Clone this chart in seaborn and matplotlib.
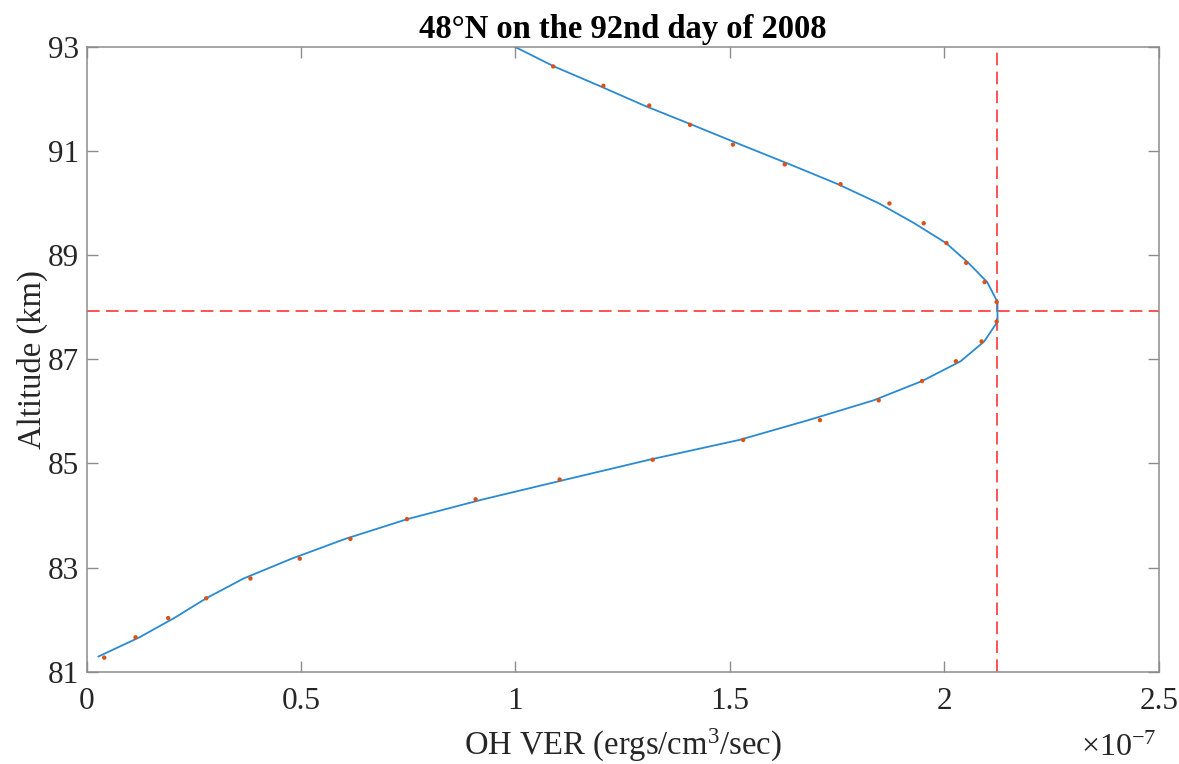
import matplotlib
matplotlib.use("Agg")
import matplotlib.pyplot as plt
import seaborn as sns
import numpy as np

# Observed OH VER (units of 1e-7 ergs/cm^3/sec) and altitudes (km)
obs_alt = [81.27, 81.66, 82.03, 82.41, 82.79, 83.17, 83.55, 83.93, 84.31, 84.69,
           85.07, 85.45, 85.83, 86.21, 86.58, 86.96, 87.34, 87.72, 88.10, 88.48,
           88.85, 89.23, 89.61, 89.99, 90.36, 90.74, 91.12, 91.50, 91.87, 92.25, 92.62]
obs_ver = [0.041, 0.114, 0.190, 0.279, 0.382, 0.497, 0.615, 0.747, 0.907, 1.103,
           1.320, 1.531, 1.710, 1.847, 1.948, 2.027, 2.087, 2.122, 2.122, 2.094,
           2.051, 2.005, 1.952, 1.872, 1.758, 1.628, 1.507, 1.407, 1.312, 1.205, 1.088]

# Fitted profile
fit_alt = [81.29, 81.66, 82.03, 82.41, 82.79, 83.17, 83.55, 83.93, 84.31, 84.69,
           85.07, 85.45, 85.83, 86.21, 86.58, 86.96, 87.34, 87.72, 88.10, 88.48,
           88.85, 89.23, 89.61, 89.99, 90.36, 90.74, 91.12, 91.50, 91.87, 92.25,
           92.62, 93.00]
fit_ver = [0.027, 0.123, 0.204, 0.279, 0.366, 0.478, 0.603, 0.748, 0.925, 1.118,
           1.312, 1.522, 1.683, 1.835, 1.948, 2.038, 2.093, 2.124, 2.124, 2.100,
           2.056, 2.004, 1.930, 1.848, 1.752, 1.640, 1.525, 1.412, 1.300, 1.195,
           1.090, 0.998]

peak_ver = 2.124
peak_alt = 87.93

x_ticks = [0, 0.5, 1, 1.5, 2, 2.5]
x_tick_labels = ["0", "0.5", "1", "1.5", "2", "2.5"]
y_ticks = [81, 83, 85, 87, 89, 91, 93]

title = "48°N on the 92nd day of 2008"

sns.set_theme(style="white")
plt.rcParams["font.family"] = ["Liberation Serif", "DejaVu Serif"]
plt.rcParams["mathtext.fontset"] = "custom"
plt.rcParams["mathtext.rm"] = "Liberation Serif"
plt.rcParams["mathtext.it"] = "Liberation Serif:italic"

fig = plt.figure(figsize=(11.79, 7.64), dpi=100)
ax = fig.add_axes([0.0735, 0.1208, 0.9093, 0.8181])

sns.lineplot(x=fit_ver, y=fit_alt, sort=False, estimator=None, ax=ax,
             color="#2a8ad2", linewidth=1.3)
sns.scatterplot(x=obs_ver, y=obs_alt, ax=ax, color="#D95319", s=10,
                edgecolor="none", zorder=3)

ax.axvline(peak_ver, color="#FF4545", linewidth=1.3, linestyle=(0, (7, 3.5)), zorder=1)
ax.axhline(peak_alt, color="#FF4545", linewidth=1.3, linestyle=(0, (7, 3.5)), zorder=1)

ax.set_xlim(0, 2.5)
ax.set_ylim(81, 93)
ax.set_xticks(x_ticks)
ax.set_xticklabels(x_tick_labels)
ax.set_yticks(y_ticks)

for sp in ax.spines.values():
    sp.set_color("#8c8c8c")
    sp.set_linewidth(1.1)
    sp.set_visible(True)

ax.tick_params(axis="both", which="major", direction="in", length=8, width=1.0,
               color="#8c8c8c", labelsize=22.5, labelcolor="#262626",
               top=True, right=True, bottom=True, left=True)
ax.tick_params(axis="x", pad=11)
ax.tick_params(axis="y", pad=5.5)

ax.set_xlabel("OH VER (ergs/cm$^3$/sec)", fontsize=23.5, color="#262626", labelpad=8)
ax.set_ylabel("Altitude (km)", fontsize=23.5, color="#262626", labelpad=0)
ax.set_title(title, fontsize=23.5, fontweight="bold", color="black", pad=6)

fig.text(1157 / 1179, 1 - 748 / 764, r"$\times$10$^{\mathregular{-7}}$", ha="right", va="center",
         fontsize=23, color="#262626")

fig.savefig("out.png", dpi=100)
